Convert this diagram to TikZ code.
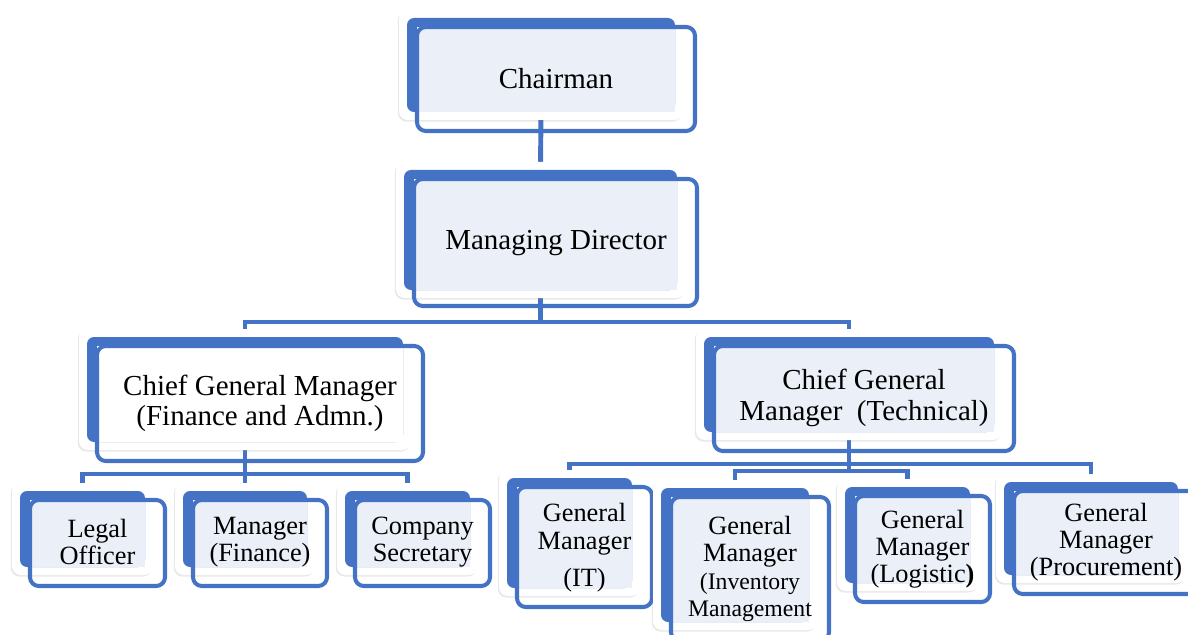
\documentclass[tikz,border=0pt]{standalone}
\usepackage{xcolor}
\usepackage{tikz}
\usetikzlibrary{shapes,backgrounds,calc,fit,shadows}
\usepackage{fontspec}
\setmainfont{Liberation Serif}

\definecolor{orgblue}{HTML}{4472C4}
\definecolor{orglight}{HTML}{EAEFF8}
\newcommand{\inventorysize}{\fontsize{13.5}{14.5}\selectfont}

\begin{document}
\begin{tikzpicture}[x=0.02cm,y=-0.02cm]
        % Styles for the layered boxes
        \tikzstyle{card}=[fill=white, rounded corners=5pt, drop shadow={shadow xshift=-0.7pt, shadow yshift=-0.9pt, opacity=0.18}];
        \tikzstyle{back}=[fill=orgblue, rounded corners=4pt, inner sep=0pt, outer sep=0pt];
        \tikzstyle{frame}=[draw=orgblue, line width=2.3pt, rounded corners=5pt];
        \tikzstyle{link}=[draw=orgblue, line width=2.8pt];
        \tikzstyle{toptext}=[font=\fontsize{16.5}{17.2}\selectfont, align=center, inner sep=0pt];
        \tikzstyle{lowtext}=[font=\fontsize{15}{15.5}\selectfont, align=center, inner sep=0pt];

        \clip (0,0) rectangle (1188,635);

        % Chairman
        \fill[card] (399,10) rectangle (683,120);
        \node[back, fit={(407,18) (675,112)}] (chair) {};
        \fill[orglight] (417,27) rectangle (675,112);
        \draw[frame] (417,27) rectangle (695,131);
        \node[toptext] (chair-t) at (556,79) {Chairman};

        % Managing Director
        \fill[card] (396,162) rectangle (685,298);
        \node[back, fit={(404,170) (677,290)}] (md) {};
        \fill[orglight] (414,179) rectangle (677,290);
        \draw[frame] (414,179) rectangle (697,306);
        \node[toptext] (md-t) at (556,243) {Managing Director};

        % Chief General Manager (Finance and Admn.)
        \fill[card] (79,329) rectangle (411,450);
        \node[back, fit={(87,337) (403,442)}] (cgmL) {};
        \fill[white] (97,346) rectangle (403,442);
        \draw[frame] (97,346) rectangle (423,461);
        \node[toptext] (cgmL-t) at (260,403) {Chief General Manager\\(Finance and Admn.)};

        % Chief General Manager (Technical)
        \fill[card] (696,329) rectangle (1002,440);
        \node[back, fit={(704,337) (994,432)}] (cgmR) {};
        \fill[orglight] (714,346) rectangle (994,432);
        \draw[frame] (714,346) rectangle (1014,451);
        \node[toptext] (cgmR-t) at (864,398) {Chief General\\Manager\ \ (Technical)};

        % Legal Officer
        \fill[card] (12,483) rectangle (153,575);
        \node[back, fit={(20,491) (145,567)}] (legal) {};
        \fill[orglight] (30,500) rectangle (145,567);
        \draw[frame] (30,500) rectangle (165,586);
        \node[lowtext] (legal-t) at (97.5,542) {Legal\\Officer};

        % Manager (Finance)
        \fill[card] (175,483) rectangle (315,575);
        \node[back, fit={(183,491) (307,567)}] (mfin) {};
        \fill[orglight] (193,500) rectangle (307,567);
        \draw[frame] (193,500) rectangle (327,586);
        \node[lowtext] (mfin-t) at (260,542) {Manager\\(Finance)};

        % Company Secretary
        \fill[card] (337,483) rectangle (478,575);
        \node[back, fit={(345,491) (470,567)}] (csec) {};
        \fill[orglight] (355,500) rectangle (470,567);
        \draw[frame] (355,500) rectangle (490,586);
        \node[lowtext] (csec-t) at (422.5,542) {Company\\Secretary};

        % General Manager (IT)
        \fill[card] (499,470) rectangle (640,596);
        \node[back, fit={(507,478) (632,588)}] (gmit) {};
        \fill[orglight] (517,487) rectangle (632,588);
        \draw[frame] (517,487) rectangle (652,607);
        \node[lowtext] (gmit-t) at (584.5,548) {General\\Manager\\[6pt](IT)};

        % General Manager (Inventory Management)
        \fill[card] (653,480) rectangle (817,630);
        \node[back, fit={(661,488) (809,622)}] (gminv) {};
        \fill[orglight] (671,497) rectangle (809,622);
        \draw[frame] (671,497) rectangle (829,641);
        \node[lowtext] (gminv-t) at (750,569) {General\\Manager\\\inventorysize(Inventory\\\inventorysize Management};

        % General Manager (Logistic)
        \fill[card] (837,479) rectangle (978,591);
        \node[back, fit={(845,487) (970,583)}] (gmlog) {};
        \fill[orglight] (855,496) rectangle (970,583);
        \draw[frame] (855,496) rectangle (990,602);
        \node[lowtext] (gmlog-t) at (922.5,549) {General\\Manager\\(Logistic\textbf{)}};

        % General Manager (Procurement)
        \fill[card] (996,474) rectangle (1186,583);
        \node[back, fit={(1004,482) (1178,575)}] (gmproc) {};
        \fill[orglight] (1014,491) rectangle (1178,575);
        \draw[frame] (1014,491) rectangle (1198,594);
        \node[lowtext] (gmproc-t) at (1106,542) {General\\Manager\\(Procurement)};

        % Connectors behind the boxes
        \begin{scope}[on background layer]
            \draw[link] (chair.south) -- (md.north);
            \draw[link] (md.south) -- ++(0,32) -| (cgmL.north);
            \draw[link] (md.south) -- ++(0,32) -| (cgmR.north);
            \draw[link] (cgmL.south) -- ++(0,32) -| (legal.north);
            \draw[link] (cgmL.south) -- (mfin.north);
            \draw[link] (cgmL.south) -- ++(0,32) -| (csec.north);
            \draw[link] (cgmR.south) -- ++(0,32) -| (gmit.north);
            \draw[link] (cgmR.south) -- ++(0,32) -| (gmproc.north);
            \draw[link] (cgmR.south) -- ++(0,39) -| (gminv.north);
            \draw[link] (cgmR.south) -- ++(0,39) -| (gmlog.north);
        \end{scope}

    \end{tikzpicture}
\end{document}
